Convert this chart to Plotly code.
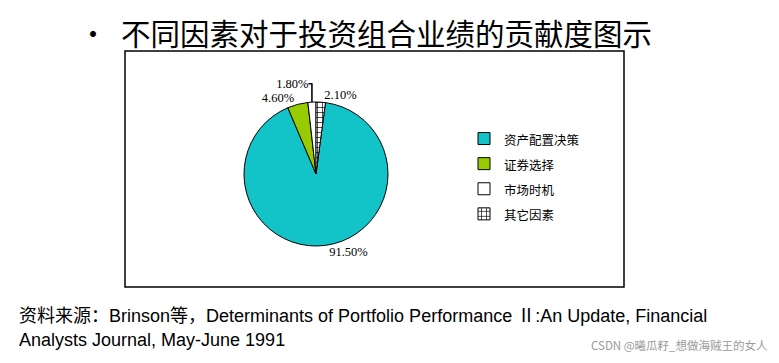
import plotly.graph_objects as go

categories = ["资产配置决策", "证券选择", "市场时机", "其它因素"]
values = [91.5, 4.6, 1.8, 2.1]
colors = ["#12C3C8", "#99CC00", "#FFFFFF", "#FFFFC0"]

title_text = "不同因素对于投资组合业绩的贡献度图示"
source_line1 = "资料来源：Brinson等，Determinants of Portfolio Performance Ⅱ:An Update, Financial"
source_line2 = "Analysts Journal, May-June 1991"
watermark = "CSDN @曦瓜籽_想做海贼王的女人"

W, H = 779, 363
rotation = values[-1] / sum(values) * 360
legend_labels = [f"<span style='font-size:12.5px'>{c}</span>" for c in categories]

cx, cy, r = 316, 174, 72

fig = go.Figure()
fig.add_trace(go.Pie(
    labels=legend_labels,
    values=values,
    sort=False,
    direction="clockwise",
    rotation=rotation,
    marker=dict(
        colors=colors,
        line=dict(color="black", width=1),
        pattern=dict(shape=["", "", "", "+"], fgcolor="black", size=5, solidity=0.25),
    ),
    textposition="outside",
    texttemplate="%{value:.2f}%",
    textfont=dict(family="Liberation Serif, DejaVu Serif", size=12.5, color="black"),
    domain=dict(x=[(cx - r) / W, (cx + r) / W], y=[1 - (cy + r) / H, 1 - (cy - r) / H]),
    showlegend=True,
    hoverinfo="percent",
))

fig.update_layout(
    width=W, height=H,
    margin=dict(l=0, r=0, t=0, b=0),
    paper_bgcolor="white",
    plot_bgcolor="white",
    font=dict(family="Noto Sans CJK SC, sans-serif", color="black"),
    legend=dict(
        x=464 / W, y=1 - 121 / H, xanchor="left", yanchor="top",
        font=dict(family="Noto Sans CJK SC", size=17, color="black"),
        tracegroupgap=0,
        bgcolor="rgba(0,0,0,0)",
    ),
    shapes=[dict(type="rect", xref="paper", yref="paper",
                 x0=125 / W, x1=624 / W, y0=1 - 287 / H, y1=1 - 51 / H,
                 line=dict(color="black", width=1.5), fillcolor="rgba(0,0,0,0)", layer="below")],
    annotations=[
        dict(text="•", x=93 / W, y=1 - 33 / H, xref="paper", yref="paper",
             xanchor="center", yanchor="middle", showarrow=False,
             font=dict(family="Noto Sans CJK SC", size=28, color="black")),
        dict(text=title_text, x=119 / W, y=1 - 32 / H, xref="paper", yref="paper",
             xanchor="left", yanchor="middle", showarrow=False,
             font=dict(family="Noto Sans CJK SC", size=29.5, color="black")),
        dict(text=source_line1, x=17 / W, y=1 - 316 / H, xref="paper", yref="paper",
             xanchor="left", yanchor="middle", showarrow=False,
             font=dict(family="Liberation Sans, Noto Sans CJK SC", size=18, color="black")),
        dict(text=source_line2, x=17 / W, y=1 - 340 / H, xref="paper", yref="paper",
             xanchor="left", yanchor="middle", showarrow=False,
             font=dict(family="Liberation Sans, Noto Sans CJK SC", size=18, color="black")),
        dict(text=watermark, x=770 / W, y=1 - 345 / H, xref="paper", yref="paper",
             xanchor="right", yanchor="middle", showarrow=False,
             font=dict(family="Noto Sans CJK SC", size=11.5, color="#9a9a9a")),
    ],
)

fig.write_html("out.html", config={"displayModeBar": False},
               post_script="document.body.style.margin='0';")
